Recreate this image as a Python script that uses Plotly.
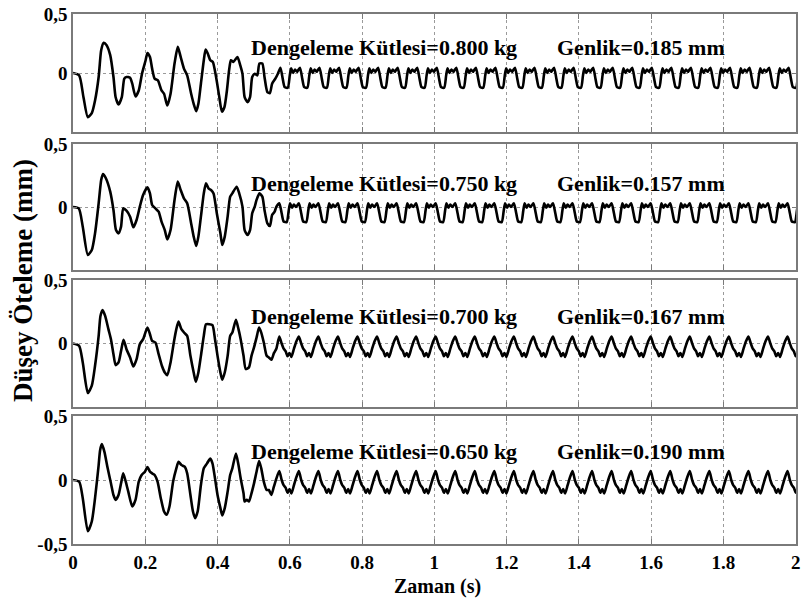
import plotly.graph_objects as go

# ---------------- data ----------------
x_tick_vals = [0, 0.2, 0.4, 0.6, 0.8, 1.0, 1.2, 1.4, 1.6, 1.8, 2.0]
x_tick_text = ["0", "0.2", "0.4", "0.6", "0.8", "1", "1.2", "1.4", "1.6", "1.8", "2"]
y_tick_vals_upper = [0, 0.5]
y_tick_text_upper = ["0", "0,5"]
y_tick_vals_lower = [-0.5, 0, 0.5]
y_tick_text_lower = ["-0,5", "0", "0,5"]

masses = ["0.800", "0.750", "0.700", "0.650"]
amplitudes = ["0.185", "0.157", "0.167", "0.190"]

# transient part (turning points)
t1 = [0.000, 0.017, 0.029, 0.041, 0.052, 0.061, 0.071, 0.078, 0.085, 0.093, 0.103, 0.112, 0.118, 0.126, 0.135,
      0.142, 0.148, 0.158, 0.164, 0.173, 0.182, 0.191, 0.201, 0.206, 0.213, 0.219, 0.226, 0.235, 0.245, 0.252,
      0.261, 0.270, 0.281, 0.290, 0.298, 0.307, 0.316, 0.327, 0.334, 0.341, 0.347, 0.354, 0.362, 0.367, 0.373,
      0.380, 0.387, 0.396, 0.405, 0.412, 0.419, 0.426, 0.432, 0.437, 0.444, 0.455, 0.463, 0.469, 0.475, 0.483,
      0.490, 0.496, 0.503, 0.510, 0.516, 0.524, 0.530, 0.538, 0.545, 0.551, 0.560, 0.567]
y1 = [0.000, -0.020, -0.205, -0.375, -0.340, -0.233, -0.034, 0.193, 0.256, 0.236, 0.151, -0.034, -0.205, -0.267,
      -0.205, -0.048, -0.034, -0.040, -0.091, -0.199, -0.148, -0.006, 0.108, 0.170, 0.136, 0.037, -0.048, -0.063,
      -0.148, -0.176, -0.276, -0.176, 0.080, 0.222, 0.136, 0.037, -0.020, -0.176, -0.261, -0.324, -0.261, -0.091,
      0.108, 0.199, 0.165, 0.108, 0.094, -0.034, -0.205, -0.327, -0.290, -0.148, 0.023, 0.108, 0.094, 0.136,
      0.065, -0.006, -0.205, -0.247, -0.205, -0.034, -0.006, -0.020, 0.080, 0.080, -0.034, -0.162, -0.170,
      -0.091, -0.048, -0.006]

t2 = [0.000, 0.016, 0.027, 0.041, 0.052, 0.061, 0.071, 0.078, 0.083, 0.091, 0.103, 0.112, 0.119, 0.126, 0.133,
      0.139, 0.148, 0.158, 0.167, 0.176, 0.185, 0.194, 0.206, 0.213, 0.219, 0.228, 0.237, 0.245, 0.254, 0.261,
      0.270, 0.281, 0.290, 0.298, 0.307, 0.316, 0.327, 0.334, 0.341, 0.347, 0.354, 0.362, 0.368, 0.375, 0.382,
      0.389, 0.398, 0.408, 0.413, 0.420, 0.428, 0.435, 0.441, 0.453, 0.460, 0.469, 0.475, 0.483, 0.490, 0.496,
      0.503, 0.508, 0.516, 0.524, 0.530, 0.538, 0.545, 0.551, 0.558, 0.563]
y2 = [0.000, -0.011, -0.156, -0.380, -0.341, -0.209, 0.029, 0.214, 0.262, 0.228, 0.122, -0.024, -0.183, -0.209,
      -0.156, -0.011, -0.029, -0.077, -0.161, -0.103, 0.003, 0.095, 0.156, 0.108, 0.016, -0.011, -0.037, -0.116,
      -0.183, -0.257, -0.183, 0.056, 0.201, 0.135, 0.069, 0.029, -0.130, -0.235, -0.310, -0.235, -0.077, 0.108,
      0.188, 0.148, 0.135, 0.108, -0.050, -0.209, -0.302, -0.235, -0.077, 0.082, 0.108, 0.161, 0.108, 0.003,
      -0.183, -0.222, -0.183, -0.050, 0.003, 0.056, 0.108, 0.082, -0.024, -0.130, -0.151, -0.063, -0.037, 0.003]

t3 = [0.000, 0.017, 0.027, 0.041, 0.052, 0.061, 0.071, 0.076, 0.082, 0.089, 0.098, 0.105, 0.112, 0.118, 0.126,
      0.133, 0.140, 0.148, 0.158, 0.167, 0.176, 0.185, 0.194, 0.206, 0.213, 0.219, 0.228, 0.237, 0.246, 0.254,
      0.261, 0.270, 0.279, 0.286, 0.292, 0.300, 0.309, 0.316, 0.325, 0.334, 0.340, 0.347, 0.354, 0.362, 0.368,
      0.377, 0.386, 0.393, 0.400, 0.408, 0.413, 0.420, 0.428, 0.435, 0.441, 0.451, 0.458, 0.464, 0.472, 0.478,
      0.487, 0.494, 0.501, 0.508, 0.515, 0.521, 0.528, 0.536, 0.542, 0.549, 0.556, 0.563]
y3 = [0.000, -0.018, -0.149, -0.390, -0.332, -0.175, 0.060, 0.217, 0.264, 0.217, 0.113, 0.034, -0.084, -0.170,
      -0.149, -0.058, 0.029, -0.045, -0.110, -0.181, -0.123, -0.005, 0.034, 0.126, 0.073, 0.021, 0.008, -0.084,
      -0.175, -0.228, -0.249, -0.149, 0.008, 0.113, 0.173, 0.113, 0.081, 0.060, -0.097, -0.228, -0.301, -0.228,
      -0.097, 0.060, 0.152, 0.152, 0.144, 0.034, -0.097, -0.228, -0.285, -0.228, -0.097, 0.060, 0.086, 0.186,
      0.113, 0.034, -0.097, -0.201, -0.188, -0.097, -0.031, 0.047, 0.126, 0.086, 0.008, -0.097, -0.110, -0.128,
      -0.076, -0.039]

t4 = [0.000, 0.017, 0.027, 0.041, 0.052, 0.061, 0.071, 0.075, 0.080, 0.087, 0.096, 0.105, 0.112, 0.118, 0.126,
      0.133, 0.139, 0.146, 0.153, 0.164, 0.173, 0.182, 0.190, 0.199, 0.206, 0.213, 0.219, 0.226, 0.234, 0.243,
      0.252, 0.259, 0.267, 0.277, 0.286, 0.292, 0.300, 0.309, 0.316, 0.325, 0.332, 0.338, 0.345, 0.354, 0.362,
      0.371, 0.380, 0.386, 0.393, 0.400, 0.408, 0.413, 0.420, 0.428, 0.435, 0.441, 0.451, 0.458, 0.464, 0.472,
      0.475, 0.481, 0.487, 0.494, 0.501, 0.508, 0.515, 0.521, 0.528, 0.536, 0.542, 0.549, 0.556, 0.563]
y4 = [0.000, -0.013, -0.142, -0.400, -0.324, -0.142, 0.117, 0.233, 0.280, 0.220, 0.091, -0.026, -0.117, -0.155,
      -0.117, -0.026, 0.052, -0.013, -0.091, -0.207, -0.155, -0.013, 0.039, 0.065, 0.101, 0.065, 0.052, 0.039,
      -0.013, -0.142, -0.246, -0.272, -0.207, -0.013, 0.091, 0.142, 0.117, 0.104, 0.052, -0.117, -0.246, -0.298,
      -0.246, -0.039, 0.091, 0.130, 0.168, 0.130, 0.013, -0.117, -0.220, -0.277, -0.220, -0.091, 0.039, 0.091,
      0.207, 0.117, 0.013, -0.104, -0.168, -0.155, -0.168, -0.104, -0.026, 0.065, 0.148, 0.091, -0.013, -0.078,
      -0.078, -0.117, -0.052, 0.013]

# steady-state part: one measured cycle per panel, repeated with the measured period
period = 0.0541
steady_start = [0.574, 0.571, 0.571, 0.571]      # time of first steady peak
cycle_frac_a = [0.00, 0.12, 0.22, 0.38, 0.48, 0.55, 0.65, 0.75, 0.85]
cycle_frac_b = [0.00, 0.12, 0.22, 0.32, 0.42, 0.52, 0.62, 0.75, 0.88]
cycle1 = [0.045, -0.050, -0.120, -0.125, -0.020, 0.040, 0.000, 0.030, 0.010]
cycle2 = [0.030, -0.050, -0.115, -0.120, -0.030, 0.030, -0.005, 0.020, 0.000]
cycle3 = [0.055, 0.000, -0.040, -0.060, -0.100, -0.075, -0.105, -0.040, 0.020]
cycle4 = [0.070, 0.000, -0.040, -0.060, -0.100, -0.070, -0.105, -0.040, 0.025]

transients = [(t1, y1), (t2, y2), (t3, y3), (t4, y4)]
cycles = [(cycle_frac_a, cycle1), (cycle_frac_a, cycle2), (cycle_frac_b, cycle3), (cycle_frac_b, cycle4)]


def build_series(t_tr, y_tr, t_start, frac, cyc, t_end=2.03):
    ts = list(t_tr)
    ys = list(y_tr)
    k = 0
    while t_start + k * period <= t_end:
        for f, v in zip(frac, cyc):
            ts.append(t_start + (k + f) * period)
            ys.append(v)
        k += 1
    return ts, ys


# ---------------- layout geometry ----------------
W, H = 803, 599
ml, mr, mt, mb = 73, 7, 14, 55
ph = H - mt - mb
pw = W - ml - mr
panel_px = [(14, 132), (144, 270), (280, 407), (416, 544)]
domains = [[1 - (b - mt) / ph, 1 - (t - mt) / ph] for t, b in panel_px]
domains[0][1] = 1.0
domains[3][0] = 0.0

serif = "Liberation Serif, Times New Roman, serif"
axis_gray = "#7a7a7a"
grid_gray = "#9a9a9a"

fig = go.Figure()
for i in range(4):
    ts, ys = build_series(transients[i][0], transients[i][1], steady_start[i], cycles[i][0], cycles[i][1])
    fig.add_trace(go.Scatter(
        x=ts, y=ys, mode="lines",
        line=dict(color="black", width=2.6, shape="spline", smoothing=0.6),
        xaxis="x" if i == 0 else f"x{i+1}",
        yaxis="y" if i == 0 else f"y{i+1}",
        showlegend=False, hoverinfo="skip",
    ))

layout = dict(
    template="none",
    width=W, height=H,
    margin=dict(l=ml, r=mr, t=mt, b=mb, autoexpand=False),
    paper_bgcolor="white", plot_bgcolor="white",
    showlegend=False,
)

tick_font = dict(family=serif, size=19, color="black", weight="bold")

for i in range(4):
    xs = "" if i == 0 else str(i + 1)
    last = (i == 3)
    layout[f"xaxis{xs}"] = dict(
        domain=[0, 1], anchor=f"y{xs}", range=[0, 2.001], automargin=False,
        tickvals=x_tick_vals, ticktext=x_tick_text,
        showticklabels=last, tickfont=tick_font, ticklabelstandoff=0,
        ticklabeloverflow="allow",
        ticks="inside", ticklen=5, tickwidth=1, tickcolor=axis_gray,
        showline=True, linecolor=axis_gray, linewidth=1.5, mirror="ticks",
        showgrid=True, gridcolor=grid_gray, gridwidth=1, griddash="dot",
        zeroline=False, fixedrange=True,
    )
    layout[f"yaxis{xs}"] = dict(
        domain=domains[i], anchor=f"x{xs}", range=[-0.5, 0.5], automargin=False,
        tickvals=y_tick_vals_lower if last else y_tick_vals_upper,
        ticktext=y_tick_text_lower if last else y_tick_text_upper,
        tickfont=tick_font,
        ticks="inside", ticklen=4, tickwidth=1, tickcolor=axis_gray,
        showline=True, linecolor=axis_gray, linewidth=1.5, mirror="ticks",
        showgrid=True, gridcolor=grid_gray, gridwidth=1, griddash="dot",
        zeroline=False, fixedrange=True,
    )

fig.update_layout(**layout)

ann_font = dict(family=serif, size=22, color="black", weight="bold")
ann_y = [0.22, 0.19, 0.215, 0.22]
for i in range(4):
    xs = "" if i == 0 else str(i + 1)
    fig.add_annotation(x=0.488, y=ann_y[i], xref=f"x{xs}", yref=f"y{xs}",
                       text=f"Dengeleme Kütlesi={masses[i]} kg", showarrow=False,
                       xanchor="left", yanchor="middle", font=ann_font)
    fig.add_annotation(x=1.333, y=ann_y[i], xref=f"x{xs}", yref=f"y{xs}",
                       text=f"Genlik={amplitudes[i]} mm", showarrow=False,
                       xanchor="left", yanchor="middle", font=ann_font)

fig.add_annotation(x=(23 - ml) / pw, y=1 - (281 - mt) / ph, xref="paper", yref="paper",
                   text="Düşey Öteleme (mm)", textangle=-90, showarrow=False,
                   xanchor="center", yanchor="middle",
                   font=dict(family=serif, size=27, color="black", weight="bold"))
fig.add_annotation(x=(437 - ml) / pw, y=-(586 - 544) / ph, xref="paper", yref="paper",
                   text="Zaman (s)", showarrow=False,
                   xanchor="center", yanchor="middle",
                   font=dict(family=serif, size=20, color="black", weight="bold"))

fig.write_html("out.html", config={"displayModeBar": False},
               post_script="document.body.style.margin='0';")
